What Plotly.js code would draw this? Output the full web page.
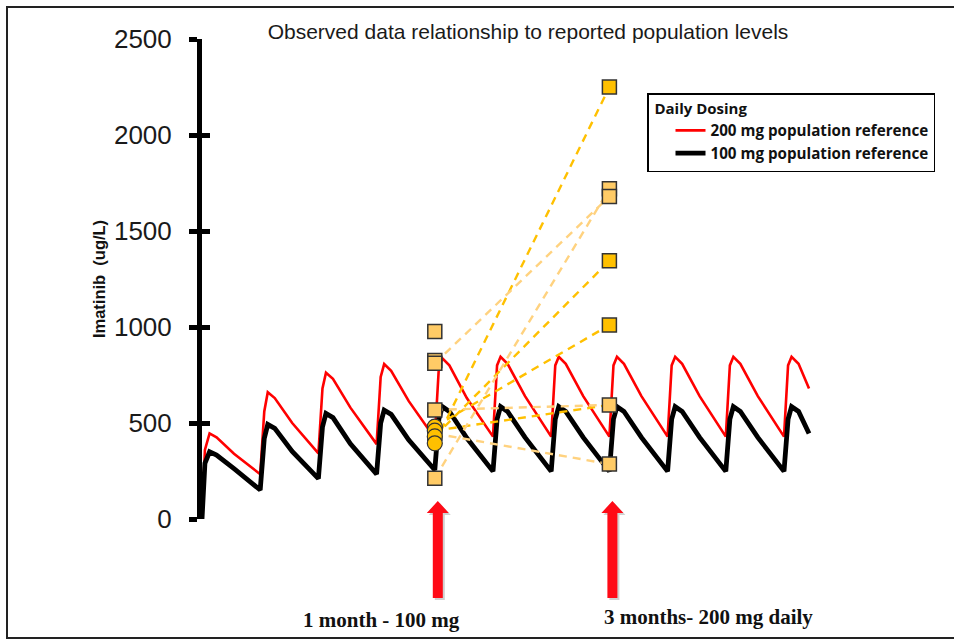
<!DOCTYPE html>
<html>
<head>
<meta charset="utf-8">
<script src="https://cdn.plot.ly/plotly-3.0.1.min.js"></script>
<style>html,body{margin:0;padding:0;background:#fff;}#chart{width:954px;height:641px;}</style>
</head>
<body>
<div id="chart"></div>
<script>
// ---- Data ----
const chartTitle = "Observed data relationship to reported population levels";
const yTitle = "Imatinib  (ug/L)";
const seriesNames = ["200 mg population reference", "100 mg population reference"];
const legendTitle = "Daily Dosing";
const yTickVals = [0, 500, 1000, 1500, 2000, 2500];

// time in dosing intervals
const tCurve = [
  0, 0.05, 0.13, 0.25, 0.55,
  1, 1.07, 1.13, 1.25, 1.55,
  2, 2.07, 2.13, 2.25, 2.55,
  3, 3.07, 3.13, 3.25, 3.55,
  4, 4.07, 4.13, 4.25, 4.55,
  5, 5.07, 5.13, 5.25, 5.55,
  6, 6.07, 6.13, 6.25, 6.55,
  7, 7.07, 7.13, 7.25, 7.55,
  8, 8.07, 8.13, 8.25, 8.55,
  9, 9.07, 9.13, 9.25, 9.55,
  10, 10.07, 10.13, 10.25, 10.43
];
const conc200 = [
  0, 360, 446, 425, 340,
  233, 560, 660, 630, 500,
  342, 680, 762, 730, 580,
  390, 740, 807, 772, 615,
  420, 790, 837, 800, 630,
  429, 800, 845, 808, 640,
  429, 800, 845, 808, 640,
  429, 800, 845, 808, 640,
  429, 800, 845, 808, 640,
  429, 800, 845, 808, 640,
  429, 800, 845, 808, 680
];
const conc100 = [
  0, 290, 350, 333, 262,
  151, 420, 493, 472, 352,
  210, 480, 550, 528, 392,
  234, 500, 567, 545, 412,
  255, 520, 585, 560, 422,
  248, 520, 585, 560, 425,
  248, 520, 585, 560, 425,
  248, 520, 585, 560, 425,
  248, 520, 585, 560, 425,
  248, 520, 585, 560, 425,
  248, 520, 585, 560, 445
];

// observed samples
const month1X = 4;   // 1 month sample time
const month3X = 7;   // 3 month sample time
const month1Squares = [976, 825, 811, 568, 445, 212];
const month1Circles = [481, 460, 430, 394];
const month3Light = [1720, 1680, 594, 286];
const month3Dark = [2250, 1345, 1010];
// patient pairs (1 month -> 3 months)
const pairStart = [394, 430, 481, 460, 212, 811, 568, 445];
const pairEnd   = [2250, 1345, 1010, 594, 1720, 1680, 594, 286];
const pairTone  = ["dark", "dark", "dark", "dark", "light", "light", "light", "light"];

const arrowLabels = ["1 month - 100 mg", "3 months- 200 mg daily"];

// ---- Styles ----
const darkGold = "#FFC000";
const lightGold = "#FFCB66";
const lightDash = "#FFD27F";
const edge = "#333333";

const traces = [];
traces.push({
  x: tCurve, y: conc200, type: "scatter", mode: "lines", name: seriesNames[0],
  line: {color: "#FF0000", width: 2.6}, hoverinfo: "skip"
});
traces.push({
  x: tCurve, y: conc100, type: "scatter", mode: "lines", name: seriesNames[1],
  line: {color: "#000000", width: 4.8}, hoverinfo: "skip"
});
// dashed connection lines
pairStart.forEach((s, i) => {
  traces.push({
    x: [month1X, month3X], y: [s, pairEnd[i]], type: "scatter", mode: "lines",
    showlegend: false, hoverinfo: "skip",
    line: {color: pairTone[i] === "dark" ? darkGold : lightDash, width: 2.4, dash: "8px,6px"}
  });
});
// markers
traces.push({
  x: month1Squares.map(() => month1X), y: month1Squares, type: "scatter", mode: "markers",
  showlegend: false, marker: {symbol: "square", size: 14, color: lightGold, line: {color: edge, width: 1.5}}
});
traces.push({
  x: month1Circles.map(() => month1X), y: month1Circles, type: "scatter", mode: "markers",
  showlegend: false, marker: {symbol: "circle", size: 15, color: darkGold, line: {color: edge, width: 1.2}}
});
traces.push({
  x: month3Light.map(() => month3X), y: month3Light, type: "scatter", mode: "markers",
  showlegend: false, marker: {symbol: "square", size: 14, color: lightGold, line: {color: edge, width: 1.5}}
});
traces.push({
  x: month3Dark.map(() => month3X), y: month3Dark, type: "scatter", mode: "markers",
  showlegend: false, marker: {symbol: "square", size: 14, color: darkGold, line: {color: edge, width: 1.5}}
});
// helper trace for the inside-tick overlay axis
traces.push({x: [null], y: [null], yaxis: "y2", type: "scatter", mode: "lines", showlegend: false, hoverinfo: "skip"});

// geometry helpers (pixel layout)
const W = 954, H = 641, L = 202, R = 23, T = 39, B = 122;
const plotW = W - L - R, plotH = H - T - B;
const pxPerUnit = 58.2;
const xMax = plotW / pxPerUnit;
const py = (px) => (H - B - px) / plotH;     // pixel row -> paper y
const pxX = (px) => (px - L) / plotW;       // pixel col -> paper x

function arrowShapes(xc) {
  const hw = 11 / pxPerUnit, sw = 5 / pxPerUnit, off = 2 / pxPerUnit;
  const tip = py(501), base = py(513), bottom = py(598);
  const mk = (dx, dy, color) => ({
    type: "path", xref: "x", yref: "paper", fillcolor: color, line: {width: 0}, layer: "above",
    path: `M ${xc + dx} ${tip + dy} L ${xc + hw + dx} ${base + dy} L ${xc + sw + dx} ${base + dy} L ${xc + sw + dx} ${bottom + dy} L ${xc - sw + dx} ${bottom + dy} L ${xc - sw + dx} ${base + dy} L ${xc - hw + dx} ${base + dy} Z`
  });
  return [mk(off, -2 / plotH, "rgba(120,120,120,0.35)"), mk(0, 0, "#FF0A16")];
}

const legendFont = "Open Sans, Lato, sans-serif";

const layout = {
  width: W, height: H,
  margin: {l: L, r: R, t: T, b: B},
  paper_bgcolor: "#ffffff", plot_bgcolor: "rgba(0,0,0,0)",
  font: {family: "Liberation Sans, Arial, sans-serif", color: "#1a1a1a"},
  title: {
    text: chartTitle, xref: "container", yref: "container",
    x: 528 / W, y: 1 - 32 / H, xanchor: "center", yanchor: "middle",
    font: {family: "Liberation Sans, Arial, sans-serif", size: 21, color: "#1a1a1a"}
  },
  showlegend: true,
  legend: {
    x: pxX(647), y: py(93), xanchor: "left", yanchor: "top",
    bgcolor: "#ffffff", bordercolor: "#000000", borderwidth: 1.5,
    indentation: 22,
    title: {text: "<b>&nbsp;" + legendTitle + "</b>", font: {family: legendFont, size: 15, color: "#111"}},
    font: {family: legendFont, size: 15.2, color: "#111", weight: "bold"},
    tracegroupgap: 0
  },
  xaxis: {range: [0, xMax], visible: false, fixedrange: true},
  yaxis: {
    range: [0, 2500], tickvals: yTickVals, ticktext: yTickVals.map(String),
    showgrid: false, zeroline: false,
    showline: true, linecolor: "#000000", linewidth: 5,
    ticks: "outside", ticklen: 8, tickwidth: 5, tickcolor: "#000000",
    ticklabelstandoff: 12,
    tickfont: {family: "Liberation Sans, Arial, sans-serif", size: 26, color: "#1a1a1a"},
    title: {text: "<b>" + yTitle + "</b>", standoff: 6,
      font: {family: "Liberation Sans, Arial, sans-serif", size: 16.5, color: "#111"}},
    fixedrange: true
  },
  yaxis2: {
    overlaying: "y", side: "left", range: [0, 2500], tickvals: yTickVals,
    showticklabels: false, showgrid: false, zeroline: false, showline: false,
    ticks: "inside", ticklen: 8, tickwidth: 5, tickcolor: "#000000", fixedrange: true
  },
  shapes: [
    {type: "rect", xref: "paper", yref: "paper", x0: pxX(7), x1: pxX(960), y0: py(638), y1: py(7),
     line: {color: "#222222", width: 2}, fillcolor: "rgba(0,0,0,0)", layer: "below"},
    ...arrowShapes(month1X + 3 / pxPerUnit),
    ...arrowShapes(month3X + 3 / pxPerUnit)
  ],
  annotations: [
    {text: "<b>" + arrowLabels[0] + "</b>", xref: "paper", yref: "paper", x: pxX(381), y: py(620),
     xanchor: "center", yanchor: "middle", showarrow: false,
     font: {family: "Liberation Serif, Times New Roman, serif", size: 21, color: "#111"}},
    {text: "<b>" + arrowLabels[1] + "</b>", xref: "paper", yref: "paper", x: pxX(708), y: py(617),
     xanchor: "center", yanchor: "middle", showarrow: false,
     font: {family: "Liberation Serif, Times New Roman, serif", size: 21, color: "#111"}}
  ]
};

Plotly.newPlot("chart", traces, layout, {displayModeBar: false, staticPlot: true});
</script>
</body>
</html>
